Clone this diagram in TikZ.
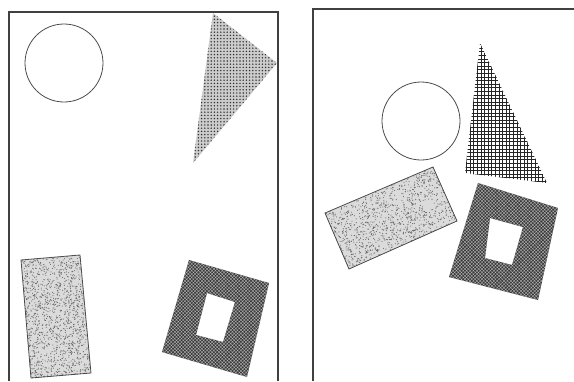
\documentclass[tikz,border=0pt]{standalone}
\usepackage{tikz}
\usetikzlibrary{patterns, patterns.meta}

\begin{document}
\begin{tikzpicture}[
        x=1pt, y=-1pt,
        frame/.style={draw=black!75, line width=1.4pt},
        outline/.style={draw=black!70, line width=0.8pt},
        dotted fill/.style={fill=gray!40, postaction={pattern={Dots[distance=3.2pt, radius=0.8pt]}, pattern color=black!80}},
        dark fill/.style={fill=black!78, even odd rule, postaction={pattern={Hatch[angle=45, distance=2.4pt, line width=0.35pt]}, pattern color=gray!55}},
        speck/.style={fill=black!60},
        grid line/.style={draw=black!85, line width=0.85pt}
    ]
    \useasboundingbox (0,0) rectangle (574,381);
    \pgfmathsetseed{42}

    % Left panel
    \draw[frame] (9,381) -- (9,12) -- (278,12) -- (278,381);
    \draw[outline] (64,63) circle (39);
    \path[dotted fill] (213,13) -- (277,63) -- (193,163) -- cycle;
    \begin{scope}
        \fill[gray!28] (21,260) -- (80,255) -- (91,373) -- (31,378) -- cycle;
        \clip (21,260) -- (80,255) -- (91,373) -- (31,378) -- cycle;
        \foreach \i in {1,...,1600}
            \fill[speck] (21+70*rnd, 255+123*rnd) circle (0.55);
    \end{scope}
    \draw[outline] (21,260) -- (80,255) -- (91,373) -- (31,378) -- cycle;
    \path[dark fill] (189,260) -- (269,283) -- (247,377) -- (162,352) -- cycle
        (207,293) -- (235,302) -- (223,342) -- (196,335) -- cycle;

    % Right panel
    \draw[frame] (313,381) -- (313,9) -- (574,9);
    \draw[outline] (421,121) circle (39);
    \begin{scope}
        \clip (480,43) -- (547,183) -- (465,173) -- cycle;
        \foreach \v in {41,44.6,...,186}
            \draw[grid line] (462,\v) -- (550,\v);
        \foreach \u in {463,466.6,...,550}
            \draw[grid line] (\u,40) -- (\u,186);
    \end{scope}
    \begin{scope}
        \fill[gray!28] (325,213) -- (433,167) -- (457,221) -- (349,269) -- cycle;
        \clip (325,213) -- (433,167) -- (457,221) -- (349,269) -- cycle;
        \foreach \i in {1,...,2000}
            \fill[speck] (325+132*rnd, 167+102*rnd) circle (0.55);
    \end{scope}
    \draw[outline] (325,213) -- (433,167) -- (457,221) -- (349,269) -- cycle;
    \path[dark fill] (478,183) -- (558,208) -- (538,300) -- (449,277) -- cycle
        (490,218) -- (523,227) -- (512,265) -- (485,258) -- cycle;

\end{tikzpicture}
\end{document}
